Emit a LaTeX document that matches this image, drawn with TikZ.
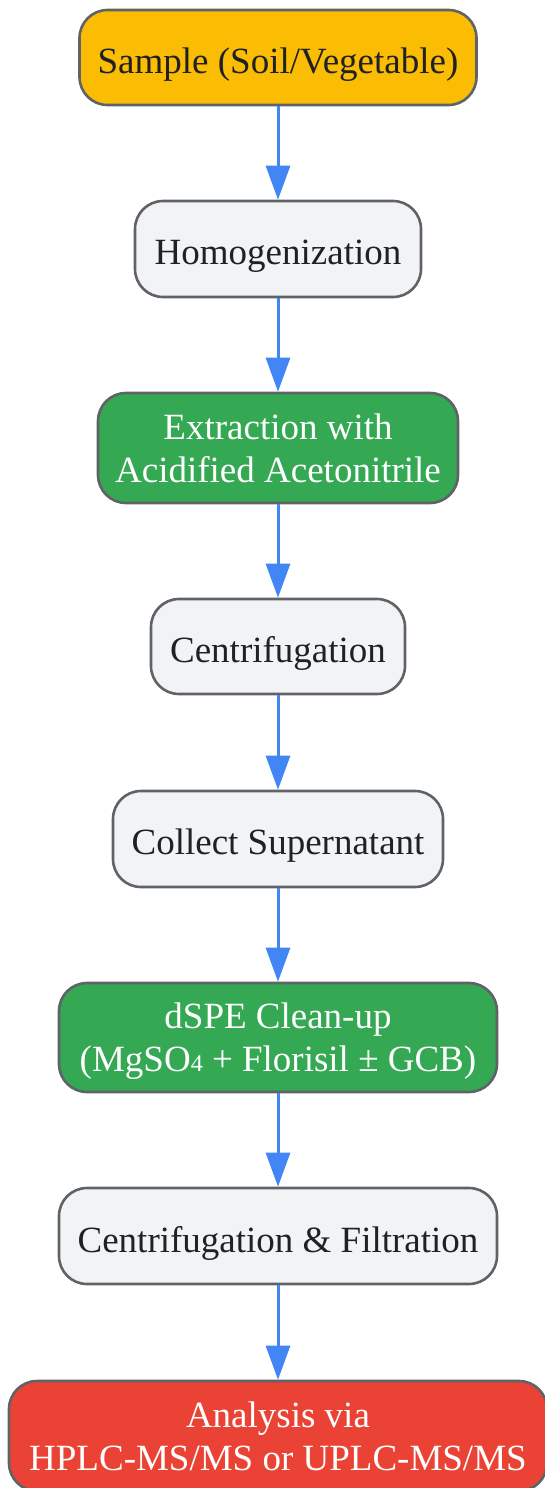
\documentclass[tikz,border=0pt]{standalone}
\usepackage{fontspec}
\setmainfont{Liberation Serif}
\usetikzlibrary{arrows.meta}
\definecolor{cyellow}{HTML}{FBBC04}
\definecolor{cgreen}{HTML}{34A853}
\definecolor{cred}{HTML}{EA4335}
\definecolor{cgray}{HTML}{F1F3F4}
\definecolor{cborder}{HTML}{5F6368}
\definecolor{ctext}{HTML}{202124}
\definecolor{carrow}{HTML}{4285F4}
\newcommand{\mstrut}{\rule[-0.216em]{0pt}{\dimexpr1.107em+7pt\relax}}
\newcommand{\subfour}{{\fontsize{24}{24}\selectfont 4}}
\newcommand{\twolines}[2]{\begin{tabular}[t]{@{}c@{}}\rule{0pt}{38.5pt}#1\\#2\end{tabular}}
\tikzset{
  box/.style={draw=cborder, line width=2.6pt, rounded corners=28pt,
    inner sep=0pt, font=\fontsize{37}{43}\selectfont},
  oneline/.style={execute at begin node=\mstrut},
  graybox/.style={box, fill=cgray, text=ctext},
  yellowbox/.style={box, fill=cyellow, text=ctext},
  greenbox/.style={box, fill=cgreen, text=white},
  redbox/.style={box, fill=cred, text=white},
  flow/.style={draw=carrow, line width=3pt, -{Triangle[length=34pt,width=24pt]}},
}
\begin{document}
\begin{tikzpicture}[x=1pt,y=-1pt]
\useasboundingbox (0,0) rectangle (545,1488);
\node[yellowbox, oneline, minimum width=397pt, minimum height=95pt] (n1) at (278,57.5) {Sample (Soil/Vegetable)};
\node[graybox, oneline, minimum width=286pt, minimum height=96pt] (n2) at (278,249) {Homogenization};
\node[greenbox, minimum width=360pt, minimum height=110pt] (n3) at (278,448) {\twolines{Extraction with}{Acidified Acetonitrile}};
\node[graybox, oneline, minimum width=254pt, minimum height=95pt] (n4) at (278,646.5) {Centrifugation};
\node[graybox, oneline, minimum width=330pt, minimum height=96pt] (n5) at (278,839) {Collect Supernatant};
\node[greenbox, minimum width=438pt, minimum height=109pt] (n6) at (278,1037.5) {\twolines{dSPE Clean-up}{(MgSO\subfour{} + Florisil ± GCB)}};
\node[graybox, oneline, minimum width=438pt, minimum height=96pt] (n7) at (278,1236) {Centrifugation \& Filtration};
\node[redbox, minimum width=538pt, minimum height=110pt] (n8) at (278,1436) {\twolines{Analysis via}{HPLC-MS/MS or UPLC-MS/MS}};
\draw[flow] (n1) -- (n2);
\draw[flow] (n2) -- (n3);
\draw[flow] (n3) -- (n4);
\draw[flow] (n4) -- (n5);
\draw[flow] (n5) -- (n6);
\draw[flow] (n6) -- (n7);
\draw[flow] (n7) -- (n8);
\end{tikzpicture}
\end{document}
